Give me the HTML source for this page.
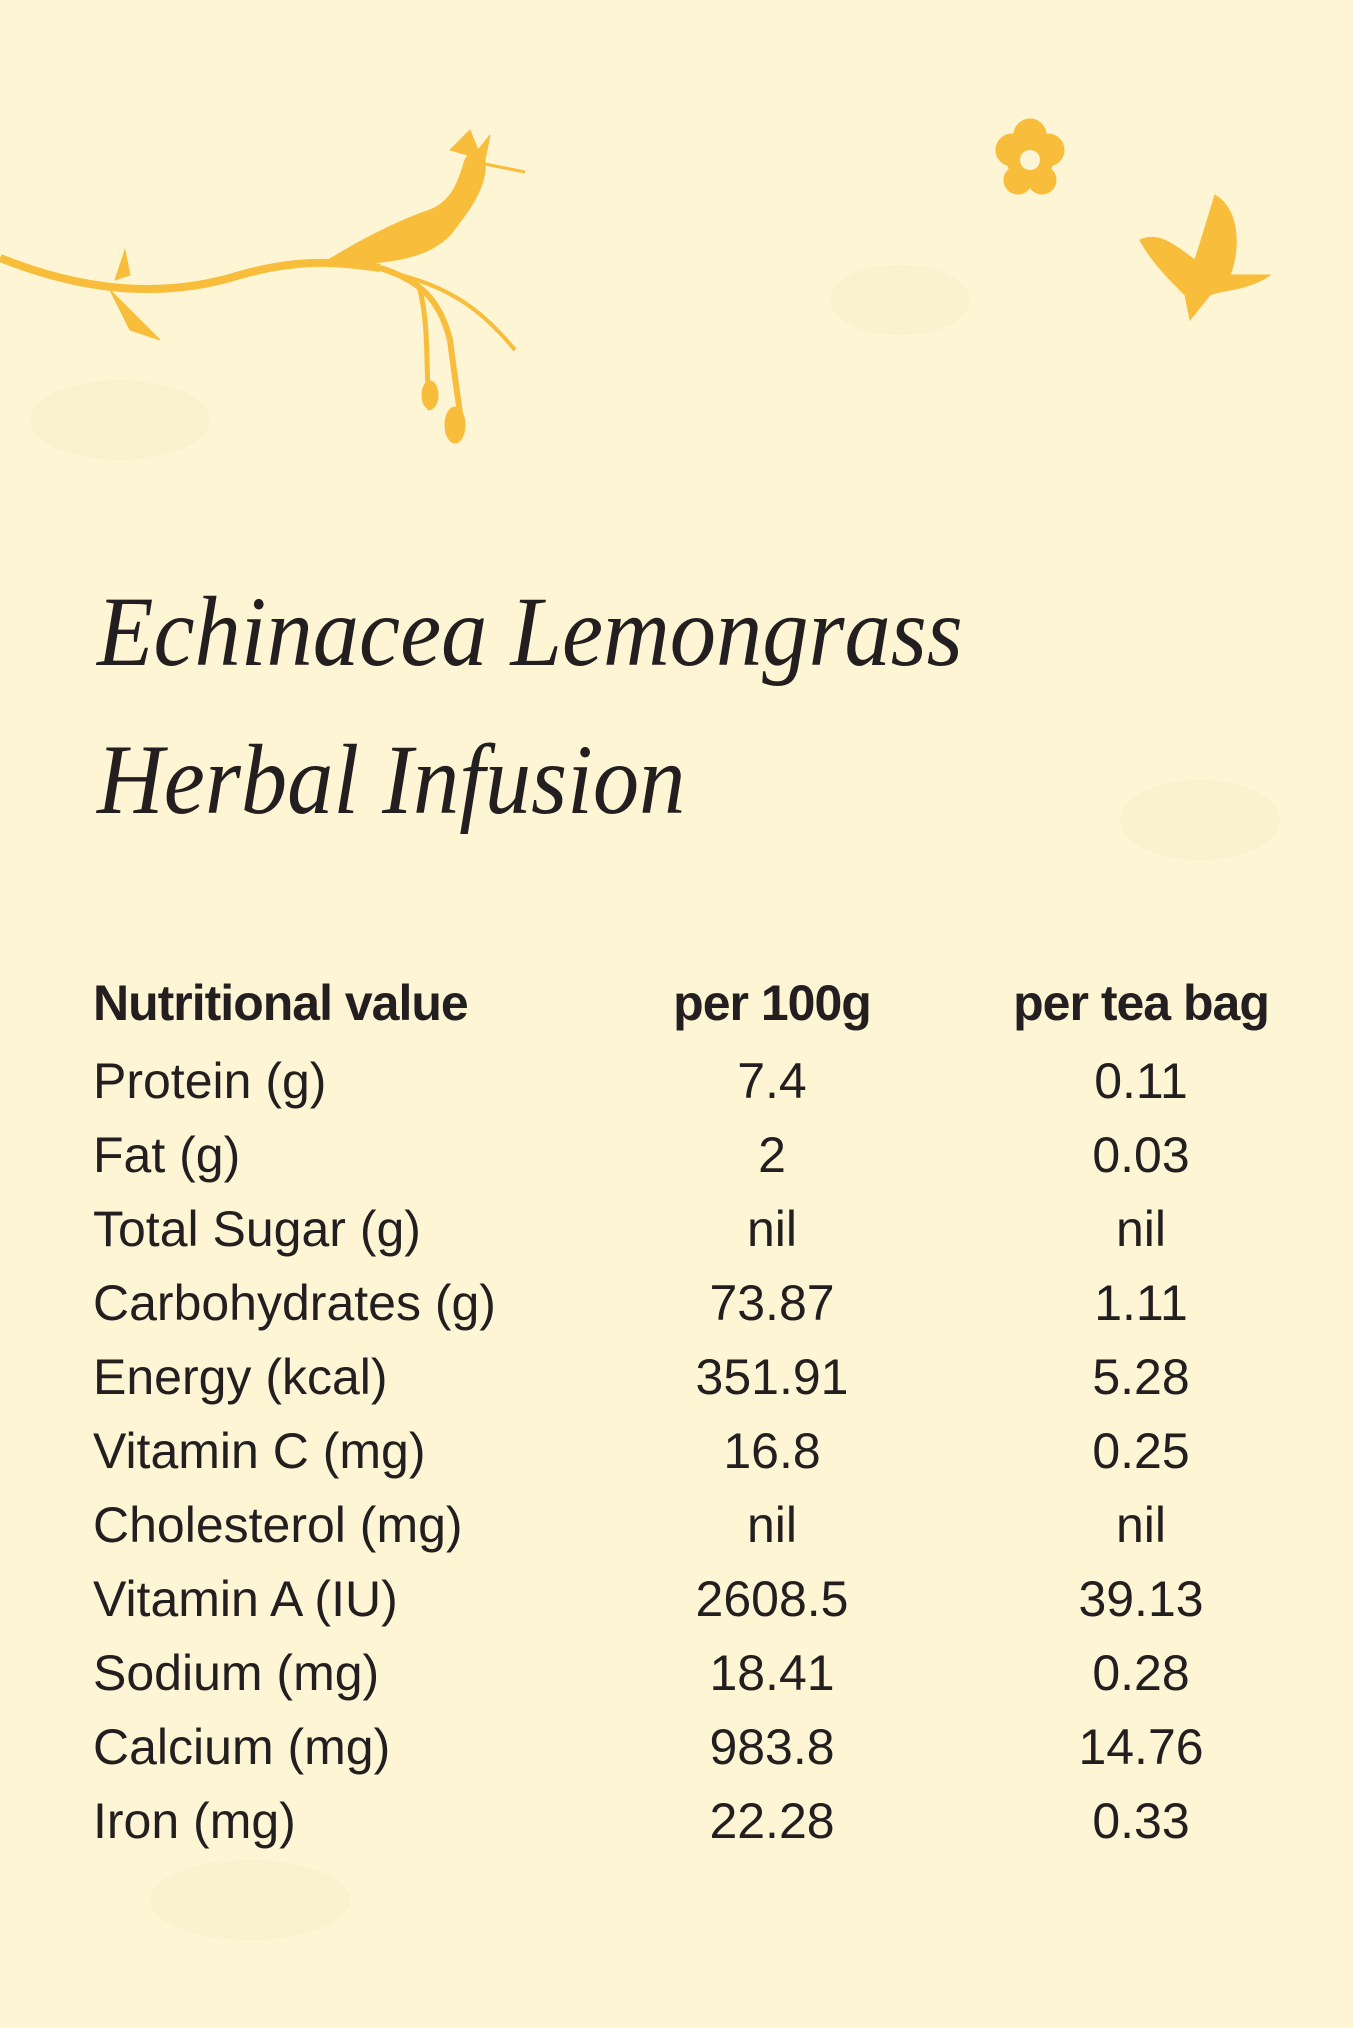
<!DOCTYPE html>
<html><head><meta charset="utf-8"><style>
html,body{margin:0;padding:0}
body{width:1353px;height:2028px;background:#fdf5d3;position:relative;overflow:hidden;font-family:"Liberation Sans",sans-serif;color:#231f20}
.t{position:absolute;left:97px;font-family:"Liberation Serif",serif;font-style:italic;font-size:100px;line-height:1;white-space:nowrap;transform-origin:left bottom}
.r{position:absolute;font-size:50px;line-height:1;white-space:nowrap}
.c1{left:93px}
.c2{left:672px;width:200px;text-align:center}
.c3{left:1041px;width:200px;text-align:center}
.h{font-weight:bold;letter-spacing:-1px}
</style></head><body>
<svg width="1353" height="2028" style="position:absolute;left:0;top:0">
<g fill="#f8eec9" opacity="0.5">
<ellipse cx="120" cy="420" rx="90" ry="40"/><ellipse cx="1200" cy="820" rx="80" ry="40"/><ellipse cx="900" cy="300" rx="70" ry="35"/><ellipse cx="250" cy="1900" rx="100" ry="40"/>
</g>
<g fill="#f8bd3a" stroke="#f8bd3a">
<path d="M0 258 C80 290 160 300 240 275 C300 258 340 262 380 268" fill="none" stroke-width="8"/>
<path d="M380 268 C420 280 440 300 450 340 C455 380 460 410 462 430" fill="none" stroke-width="6"/>
<path d="M400 275 C460 290 490 320 515 350" fill="none" stroke-width="4"/>
<path d="M420 290 C430 330 425 380 430 410" fill="none" stroke-width="5"/>
<ellipse cx="455" cy="425" rx="10" ry="18"/>
<ellipse cx="430" cy="395" rx="8" ry="14"/>
<path d="M110 290 L140 320 L160 340 L130 330 Z"/>
<path d="M125 250 L130 275 L115 280 Z"/>
<path d="M320 265 C360 240 400 220 430 210 C455 200 460 175 465 160 C470 150 480 150 485 160 C488 185 470 210 450 235 C430 255 400 265 320 265Z"/>
<path d="M465 160 L525 172" stroke-width="3" fill="none"/>
<path d="M450 150 L470 130 L478 150 L490 135 L485 160Z"/>
<circle cx="1030" cy="162" r="22"/><circle cx="1012" cy="150" r="16"/><circle cx="1048" cy="150" r="16"/><circle cx="1030" cy="135" r="16"/><circle cx="1018" cy="180" r="14"/><circle cx="1042" cy="180" r="14"/>
<circle cx="1030" cy="160" r="10" fill="#fdf5d3" stroke="none"/>
<path d="M1140 240 C1160 230 1180 250 1195 260 L1215 195 C1240 210 1240 250 1230 275 L1270 275 C1250 290 1220 290 1210 295 L1190 320 L1185 295 C1170 280 1150 260 1140 240Z"/>
</g>
</svg>
<div class="t" style="top:582px;transform:scaleX(0.925)">Echinacea Lemongrass</div>
<div class="t" style="top:730px;transform:scaleX(0.925)">Herbal Infusion</div>
<div class="r c1 h" style="top:978px">Nutritional value</div>
<div class="r c2 h" style="top:978px">per 100g</div>
<div class="r c3 h" style="top:978px;left:1011px;width:260px">per tea bag</div>

<div class="r c1" style="top:1056px">Protein (g)</div><div class="r c2" style="top:1056px">7.4</div><div class="r c3" style="top:1056px">0.11</div>
<div class="r c1" style="top:1130px">Fat (g)</div><div class="r c2" style="top:1130px">2</div><div class="r c3" style="top:1130px">0.03</div>
<div class="r c1" style="top:1204px">Total Sugar (g)</div><div class="r c2" style="top:1204px">nil</div><div class="r c3" style="top:1204px">nil</div>
<div class="r c1" style="top:1278px">Carbohydrates (g)</div><div class="r c2" style="top:1278px">73.87</div><div class="r c3" style="top:1278px">1.11</div>
<div class="r c1" style="top:1352px">Energy (kcal)</div><div class="r c2" style="top:1352px">351.91</div><div class="r c3" style="top:1352px">5.28</div>
<div class="r c1" style="top:1426px">Vitamin C (mg)</div><div class="r c2" style="top:1426px">16.8</div><div class="r c3" style="top:1426px">0.25</div>
<div class="r c1" style="top:1500px">Cholesterol (mg)</div><div class="r c2" style="top:1500px">nil</div><div class="r c3" style="top:1500px">nil</div>
<div class="r c1" style="top:1574px">Vitamin A (IU)</div><div class="r c2" style="top:1574px">2608.5</div><div class="r c3" style="top:1574px">39.13</div>
<div class="r c1" style="top:1648px">Sodium (mg)</div><div class="r c2" style="top:1648px">18.41</div><div class="r c3" style="top:1648px">0.28</div>
<div class="r c1" style="top:1722px">Calcium (mg)</div><div class="r c2" style="top:1722px">983.8</div><div class="r c3" style="top:1722px">14.76</div>
<div class="r c1" style="top:1796px">Iron (mg)</div><div class="r c2" style="top:1796px">22.28</div><div class="r c3" style="top:1796px">0.33</div>
</body></html>
